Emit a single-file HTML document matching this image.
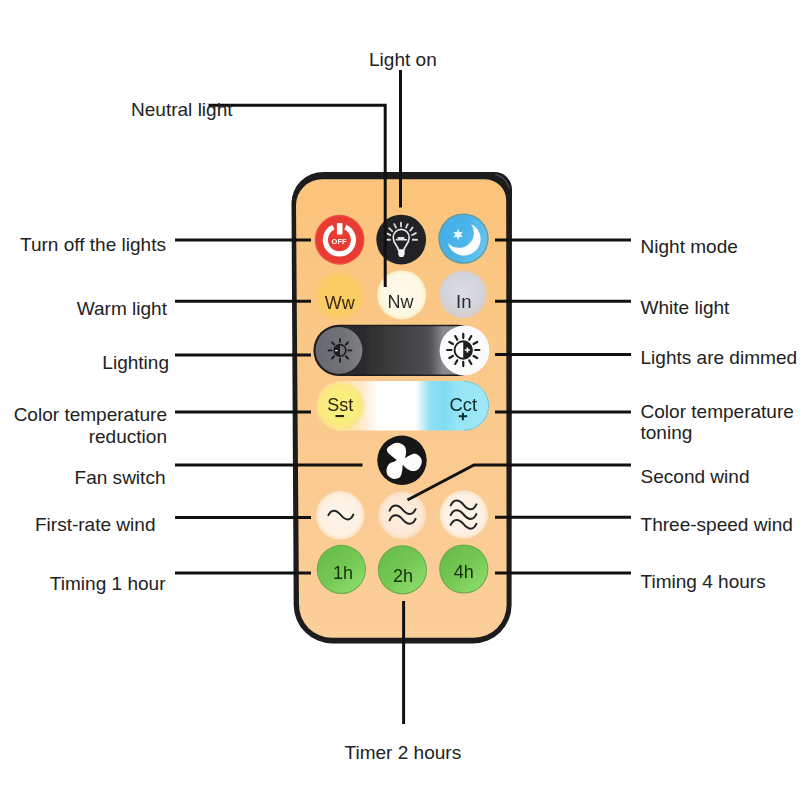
<!DOCTYPE html>
<html>
<head>
<meta charset="utf-8">
<title>Remote control functions</title>
<style>
html,body{margin:0;padding:0;background:#fff;}
body{width:800px;height:800px;overflow:hidden;position:relative;font-family:"Liberation Sans",sans-serif;}
svg{position:absolute;left:0;top:0;display:block;}
.t{position:absolute;font-family:"Liberation Sans",sans-serif;font-size:19.05px;line-height:22px;color:#222;white-space:nowrap;letter-spacing:0;}
.r{text-align:right;}
</style>
</head>
<body>
<svg width="800" height="800" viewBox="0 0 800 800">
<defs>
  <linearGradient id="body" x1="0" y1="0" x2="0" y2="1">
    <stop offset="0" stop-color="#fbc47b"/>
    <stop offset="0.5" stop-color="#fac98c"/>
    <stop offset="1" stop-color="#fbce9a"/>
  </linearGradient>
  <linearGradient id="blue" x1="0" y1="0" x2="1" y2="0.3">
    <stop offset="0" stop-color="#45aee8"/>
    <stop offset="0.6" stop-color="#4cb4ea"/>
    <stop offset="1" stop-color="#62c2f0"/>
  </linearGradient>
  <linearGradient id="gray" x1="0" y1="0" x2="1" y2="0">
    <stop offset="0" stop-color="#686a70"/>
    <stop offset="0.6" stop-color="#707278"/>
    <stop offset="1" stop-color="#7e8086"/>
  </linearGradient>
  <radialGradient id="nw" cx="0.5" cy="0.5" r="0.5">
    <stop offset="0" stop-color="#fefbea"/>
    <stop offset="0.85" stop-color="#fdf8e2"/>
    <stop offset="1" stop-color="#fcecc4"/>
  </radialGradient>
  <radialGradient id="inb" cx="0.5" cy="0.45" r="0.5">
    <stop offset="0" stop-color="#dcdce6"/>
    <stop offset="0.8" stop-color="#d3d3dc"/>
    <stop offset="1" stop-color="#d8cdc8"/>
  </radialGradient>
  <radialGradient id="yel" cx="0.5" cy="0.5" r="0.5">
    <stop offset="0" stop-color="#faf07c"/>
    <stop offset="0.6" stop-color="#faee7e"/>
    <stop offset="0.85" stop-color="#fbe684"/>
    <stop offset="1" stop-color="#fbe08c" stop-opacity="0"/>
  </radialGradient>
  <radialGradient id="ww" cx="0.5" cy="0.5" r="0.5">
    <stop offset="0" stop-color="#fbce64"/>
    <stop offset="0.72" stop-color="#fbcc66"/>
    <stop offset="1" stop-color="#fbcb78" stop-opacity="0"/>
  </radialGradient>
  <linearGradient id="cct" x1="0" y1="0" x2="1" y2="0">
    <stop offset="0" stop-color="#fbd894"/>
    <stop offset="0.2" stop-color="#fce6b0"/>
    <stop offset="0.28" stop-color="#fdedd2"/>
    <stop offset="0.35" stop-color="#ffffff"/>
    <stop offset="0.575" stop-color="#ffffff"/>
    <stop offset="0.66" stop-color="#8fe0f3"/>
    <stop offset="0.74" stop-color="#80dcf2"/>
    <stop offset="0.82" stop-color="#96e5f6"/>
    <stop offset="1" stop-color="#9fe8f8"/>
  </linearGradient>
  <linearGradient id="dark" x1="0" y1="0" x2="1" y2="0">
    <stop offset="0" stop-color="#2a2a2c"/>
    <stop offset="0.3" stop-color="#2c2c2e"/>
    <stop offset="0.45" stop-color="#3c3c3e"/>
    <stop offset="0.6" stop-color="#47474a"/>
    <stop offset="0.68" stop-color="#515154"/>
    <stop offset="0.72" stop-color="#6a6a6e"/>
    <stop offset="0.76" stop-color="#8a8a8e"/>
  </linearGradient>
  <linearGradient id="green" x1="0.15" y1="0.1" x2="0.85" y2="0.9">
    <stop offset="0" stop-color="#69bd4b"/>
    <stop offset="0.5" stop-color="#73c853"/>
    <stop offset="1" stop-color="#8cdb6a"/>
  </linearGradient>
  <radialGradient id="cream" cx="0.5" cy="0.5" r="0.5">
    <stop offset="0" stop-color="#fdf5ea"/>
    <stop offset="0.82" stop-color="#fdf1e2"/>
    <stop offset="1" stop-color="#fbe2c6"/>
  </radialGradient>
  <radialGradient id="cream2" cx="0.5" cy="0.5" r="0.5">
    <stop offset="0" stop-color="#fcf0e2"/>
    <stop offset="0.8" stop-color="#fce9d6"/>
    <stop offset="1" stop-color="#fbdcbc"/>
  </radialGradient>
  <filter id="soft" x="-5%" y="-5%" width="110%" height="110%"><feGaussianBlur stdDeviation="0.45"/></filter>
</defs>

<!-- REMOTE BODY -->
<g id="remote" filter="url(#soft)">
  <path d="M323.5,172 H494.5 A17.5,17.5 0 0 1 512,189.5 L511.6,605 A38.5,38.5 0 0 1 473.1,643.5 H332.5 A38.8,38.8 0 0 1 293.7,605.2 L291.5,203 A32,31 0 0 1 323.5,172 Z" fill="#1b1b1b"/>
  <path d="M322,179.3 H485.2 A21,21 0 0 1 506.2,200.3 L506.6,605 A32.8,32.8 0 0 1 473.8,637.8 H332 A33,33 0 0 1 299,604.8 L296,205.3 A26,26 0 0 1 322,179.3 Z" fill="url(#body)"/>
  <path d="M495.5,174.6 Q505.5,176.5 509.4,188" fill="none" stroke="#4a4a4a" stroke-width="1.2" stroke-linecap="round"/>
</g>

<!-- BUTTONS -->
<g id="buttons" filter="url(#soft)">
  <!-- power -->
  <circle cx="339.6" cy="239.75" r="24.9" fill="#ef4d44"/>
  <circle cx="339.6" cy="239.75" r="23.6" fill="#e83a33"/>
  <path d="M345.34,227.17 A14.05,14.05 0 1 1 333.46,227.17" fill="none" stroke="#fff" stroke-width="5.2"/>
  <rect x="336.9" y="222.9" width="5.6" height="11.6" rx="0.8" fill="#fff"/>
  <text x="339.1" y="244.3" font-family="Liberation Sans, sans-serif" font-weight="bold" font-size="7" fill="#fff" text-anchor="middle" textLength="15" lengthAdjust="spacingAndGlyphs">OFF</text>

  <!-- bulb -->
  <circle cx="401.2" cy="239.6" r="24.9" fill="#242426"/>
  <g fill="none" stroke="#ececec" stroke-linecap="round" stroke-linejoin="round">
    <path stroke-width="1.6" d="M398.4,250 C398.2,246.4 393.2,243.6 393.2,237.4 A8,8 0 0 1 409.2,237.4 C409.2,243.6 404.2,246.4 404,250 Z"/>
    <path stroke-width="1.9" stroke="#d8d8d8" d="M401,222.8 V226.4 M394.3,224.2 L396,227.6 M407.7,224.2 L406,227.6 M389.2,228.2 L392.2,231.2 M412.6,227.6 L410.2,230.6 M386.9,233.4 L390.3,235.1 M415.8,233.1 L412.1,235.1 M386.5,239.8 H390 M412.7,239.8 H417"/>
  </g>
  <path d="M398.2,250 H404.6 V254.2 L403.2,257 H399.6 L398.2,254.2 Z" fill="#f2f2f2"/>
  <rect x="397.6" y="237" width="6.8" height="2.2" fill="#e0e0e0"/>
  <rect x="395.8" y="239" width="11.2" height="1.5" fill="#e6e6e6"/>

  <!-- moon -->
  <circle cx="463.45" cy="238.6" r="25.2" fill="#62999f"/>
  <circle cx="463.45" cy="238.6" r="23.9" fill="url(#blue)"/>
  <path d="M471.07,223.98 A16.6,16.6 0 1 1 447.87,242.92 A15,15 0 0 0 471.07,223.98 Z" fill="#fdfeff"/>
  <polygon points="458.10,228.80 459.40,232.25 463.04,231.65 460.70,234.50 463.04,237.35 459.40,236.75 458.10,240.20 456.80,236.75 453.16,237.35 455.50,234.50 453.16,231.65 456.80,232.25" fill="#e8fbff"/>

  <!-- Ww -->
  <circle cx="339.3" cy="295.6" r="28" fill="url(#ww)"/>
  <text x="339.8" y="308.8" font-family="Liberation Sans, sans-serif" font-size="18" fill="#3a2a12" text-anchor="middle">Ww</text>
  <!-- Nw -->
  <circle cx="401.7" cy="294.8" r="24.6" fill="url(#nw)"/>
  <text x="400.5" y="307.8" font-family="Liberation Sans, sans-serif" font-size="18" fill="#2c2c24" text-anchor="middle">Nw</text>
  <!-- In -->
  <circle cx="463" cy="294.4" r="23.8" fill="url(#inb)"/>
  <text x="463.8" y="307.7" font-family="Liberation Sans, sans-serif" font-size="18.5" fill="#2a2a30" text-anchor="middle">In</text>

  <!-- dark pill -->
  <rect x="313.4" y="324.8" width="170" height="51.2" rx="25.6" fill="#1e1c1b"/>
  <rect x="315.2" y="326.2" width="168" height="48.4" rx="24.2" fill="url(#dark)"/>
  <circle cx="339" cy="350.4" r="23.4" fill="url(#gray)"/>
  <g stroke="#1e1e20" stroke-width="1.9" stroke-linecap="round" fill="none">
    <path d="M348.30,350.40 L351.40,350.40 M345.87,356.27 L348.06,358.46 M340.00,358.70 L340.00,361.80 M334.13,356.27 L331.94,358.46 M331.70,350.40 L328.60,350.40 M334.13,344.53 L331.94,342.34 M340.00,342.10 L340.00,339.00 M345.87,344.53 L348.06,342.34"/>
    <circle cx="340" cy="350.4" r="5.8" stroke-width="1.6"/>
  </g>
  <path d="M340,344.6 A5.8,5.8 0 0 0 340,356.2 Z" fill="#1e1e20"/>
  <rect x="335" y="349.9" width="2.7" height="1.3" rx="0.5" fill="#f0f0f0"/>

  <circle cx="464.5" cy="350.4" r="24.9" fill="#fbfbfd"/>
  <g stroke="#1c1c1c" stroke-width="2.2" stroke-linecap="round" fill="none">
    <path d="M475.15,350.00 L479.35,350.00 M473.56,355.95 L477.19,358.05 M469.20,360.31 L471.30,363.94 M463.25,361.90 L463.25,366.10 M457.30,360.31 L455.20,363.94 M452.94,355.95 L449.31,358.05 M451.35,350.00 L447.15,350.00 M452.94,344.05 L449.31,341.95 M457.30,339.69 L455.20,336.06 M463.25,338.10 L463.25,333.90 M469.20,339.69 L471.30,336.06 M473.56,344.05 L477.19,341.95"/>
    <circle cx="463.25" cy="350" r="8.7" stroke-width="1.9"/>
  </g>
  <path d="M463.25,341.3 A8.7,8.7 0 0 1 463.25,358.7 Z" fill="#1c1c1c"/>
  <path d="M464.8,350 H470 M467.4,347.4 V352.6" stroke="#fbfbfd" stroke-width="1.6"/>

  <!-- gradient pill -->
  <rect x="316.6" y="381" width="172.4" height="49.6" rx="24.8" fill="url(#cct)"/>
  <circle cx="340.4" cy="406.2" r="25.4" fill="url(#yel)"/>
  <path d="M464.2,381.4 A24.4,24.4 0 0 1 464.2,430.2" fill="none" stroke="#6fb9c6" stroke-width="1" opacity="0.8"/>
  <text x="340.2" y="411.2" font-family="Liberation Sans, sans-serif" font-size="18" fill="#2a2408" text-anchor="middle">Sst</text>
  <rect x="335.5" y="415" width="8.6" height="2.1" fill="#2a2408"/>
  <text x="463.3" y="411.2" font-family="Liberation Sans, sans-serif" font-size="18.4" fill="#0d2a2c" text-anchor="middle">Cct</text>
  <path d="M458.7,416.2 H467.1 M462.9,412.7 V420.3" stroke="#0d2a2c" stroke-width="1.9"/>

  <!-- fan -->
  <circle cx="402" cy="460.2" r="24.7" fill="#161616"/>
  <path transform="translate(402,460.75)" fill="#fdfdfd" d="M-5.25,-0.75 C-6.75,-2.04 -12.81,-6.38 -14.25,-8.50 C-15.69,-10.62 -15.40,-11.92 -13.90,-13.50 C-12.40,-15.08 -7.94,-17.75 -5.25,-18.00 C-2.56,-18.25 0.69,-16.50 2.25,-15.00 C3.81,-13.50 3.97,-11.07 4.10,-9.00 C4.22,-6.93 3.18,-3.67 3.00,-2.60 C4.00,-3.17 7.25,-5.28 9.00,-6.00 C10.75,-6.72 11.88,-7.40 13.50,-6.90 C15.12,-6.40 17.73,-4.53 18.75,-3.00 C19.77,-1.47 20.02,0.38 19.65,2.25 C19.27,4.12 17.90,6.90 16.50,8.25 C15.10,9.60 13.12,10.35 11.25,10.35 C9.38,10.35 7.00,9.29 5.25,8.25 C3.50,7.21 1.50,4.79 0.75,4.10 C0.62,5.29 0.50,9.18 0.00,11.25 C-0.50,13.32 -0.88,15.35 -2.25,16.50 C-3.62,17.65 -6.31,18.40 -8.25,18.15 C-10.19,17.90 -12.69,16.52 -13.90,15.00 C-15.11,13.47 -15.69,11.00 -15.50,9.00 C-15.31,7.00 -14.08,4.38 -12.75,3.00 C-11.42,1.62 -8.75,1.38 -7.50,0.75 C-6.25,0.12 -5.62,-0.50 -5.25,-0.75 Z"/>

  <!-- wave row -->
  <circle cx="340.2" cy="515.3" r="24.2" fill="url(#cream)"/>
  <circle cx="402.2" cy="515.2" r="23.8" fill="url(#cream2)"/>
  <circle cx="463.8" cy="514.5" r="24.2" fill="url(#cream)"/>
  <g fill="none" stroke="#242424" stroke-width="2" stroke-linecap="round">
    <path d="M328.4,515.2 C331,509.5 336,509 340.8,515 C345.6,521 350.6,521 353.3,514.6"/>
    <path d="M389.6,510.6 C392,504.5 397.5,503.5 402.6,509.6 C407.5,515.6 412.6,515.6 415.6,509.2"/>
    <path d="M389.6,520.3 C392,514.2 397.5,513.2 402.6,519.3 C407.5,525.3 412.6,525.3 415.6,518.9"/>
    <path d="M450.7,505.4 C453.4,499.4 458.6,498.6 463.6,504.8 C468.4,510.8 473.4,510.8 476.4,504.4"/>
    <path d="M450.7,515.1 C453.4,509.1 458.6,508.3 463.6,514.5 C468.4,520.5 473.4,520.5 476.4,514.1"/>
    <path d="M450.7,524.8 C453.4,518.8 458.6,518 463.6,524.2 C468.4,530.2 473.4,530.2 476.4,523.8"/>
  </g>

  <!-- green row -->
  <circle cx="341.4" cy="569.4" r="24.6" fill="#6aa84a"/>
  <circle cx="341.4" cy="569.4" r="23.6" fill="url(#green)"/>
  <circle cx="402.4" cy="569.8" r="24.6" fill="#6aa84a"/>
  <circle cx="402.4" cy="569.8" r="23.6" fill="url(#green)"/>
  <circle cx="463.8" cy="569" r="24.6" fill="#6aa84a"/>
  <circle cx="463.8" cy="569" r="23.6" fill="url(#green)"/>
  <g font-family="Liberation Sans, sans-serif" font-size="18" fill="#15300c" text-anchor="middle">
    <text x="343" y="578.8">1h</text>
    <text x="403" y="581.6">2h</text>
    <text x="463.8" y="578.3">4h</text>
  </g>
</g>

<!-- LEADER LINES -->
<g id="lines" stroke="#111" stroke-width="3" fill="none">
  <path d="M175,240 H311"/>
  <path d="M175,301.3 H311"/>
  <path d="M175,355 H311"/>
  <path d="M175,412 H311"/>
  <path d="M175,465 H362.5"/>
  <path d="M175,517.5 H311"/>
  <path d="M175,573 H311"/>
  <path d="M495,240 H631"/>
  <path d="M495,301.3 H631"/>
  <path d="M495,354.6 H631"/>
  <path d="M495,412 H631"/>
  <path d="M631,465 H474 L407.5,500"/>
  <path d="M495,517.3 H631"/>
  <path d="M495,573 H631"/>
  <path d="M208.5,105.3 H385.2 V287"/>
  <path d="M400.5,70 V207.5"/>
  <path d="M403.6,601 V724"/>
</g>
</svg>

<div class="t" style="left:369px;top:48.5px;">Light on</div>
<div class="t" style="left:131px;top:99px;">Neutral light</div>

<div class="t r" style="right:634px;top:234px;">Turn off the lights</div>
<div class="t r" style="right:633px;top:297.8px;">Warm light</div>
<div class="t r" style="right:631px;top:351.8px;">Lighting</div>
<div class="t r" style="right:633px;top:403.5px;">Color temperature</div>
<div class="t r" style="right:633px;top:425.5px;">reduction</div>
<div class="t r" style="right:634.5px;top:466.5px;">Fan switch</div>
<div class="t r" style="right:644.5px;top:514px;">First-rate wind</div>
<div class="t r" style="right:634.5px;top:572.8px;">Timing 1 hour</div>

<div class="t" style="left:640.5px;top:235.5px;">Night mode</div>
<div class="t" style="left:640.5px;top:297.3px;">White light</div>
<div class="t" style="left:640.5px;top:347.3px;">Lights are dimmed</div>
<div class="t" style="left:640.5px;top:400.5px;">Color temperature</div>
<div class="t" style="left:640.5px;top:421.8px;">toning</div>
<div class="t" style="left:640.5px;top:466px;">Second wind</div>
<div class="t" style="left:640.5px;top:513.5px;">Three-speed wind</div>
<div class="t" style="left:640.5px;top:571px;">Timing 4 hours</div>

<div class="t" style="left:344.5px;top:741.8px;">Timer 2 hours</div>
</body>
</html>
